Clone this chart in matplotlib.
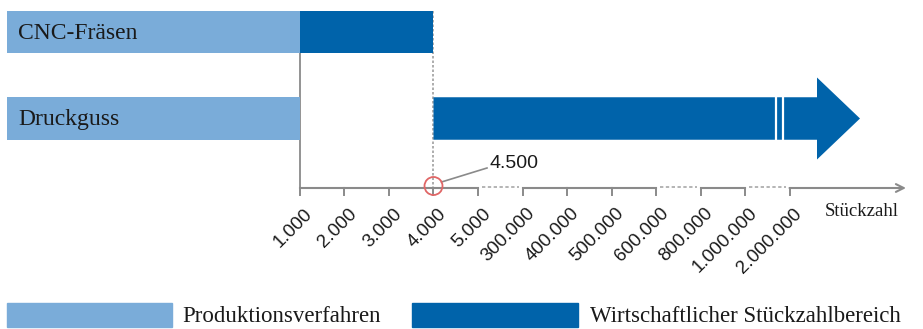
import matplotlib.pyplot as plt
from matplotlib.patches import Ellipse, Polygon, Rectangle

# data
quantities = ["1.000", "2.000", "3.000", "4.000", "5.000", "300.000", "400.000",
              "500.000", "600.000", "800.000", "1.000.000", "2.000.000"]
processes = ["CNC-Fräsen", "Druckguss"]
econ_from = ["1.000", "4.000"]
econ_to = ["4.000", None]          # None -> open-ended (arrow)
break_even_label = "4.500"
break_even_at = "4.000"
broken_segments = [("5.000", "300.000"), ("600.000", "800.000"), ("1.000.000", "2.000.000")]

LIGHT = "#7aacd9"
DARK = "#0063aa"
GREY = "#8a8a8a"

W, H = 923, 329
X0, STEP = 300, 44.5   # pixel position of first tick, tick spacing


def xi(px):
    return (px - X0) / STEP


def main():
    fig = plt.figure(figsize=(W / 100, H / 100), dpi=100)
    ax = fig.add_axes([0, 0, 1, 1])
    ax.set_xlim(xi(0), xi(W))
    ax.set_ylim(H, 0)
    ax.axis("off")

    pos = {q: i for i, q in enumerate(quantities)}
    row_y = [32, 118.5]
    row_h = 42.5
    label_left = xi(7)

    # process label bars
    ax.barh(row_y, [0 - label_left] * 2, left=label_left, height=row_h,
            color=LIGHT, zorder=2)
    for y, name in zip(row_y, processes):
        ax.text(xi(18), y + 1.5, name, ha="left", va="center", fontsize=17,
                family="Liberation Serif", color="#1a1a1a", zorder=3)

    # economic ranges
    for y, a, b in zip(row_y, econ_from, econ_to):
        if b is not None:
            ax.barh(y, pos[b] - pos[a], left=pos[a], height=row_h, color=DARK, zorder=2)
        else:
            x_start = pos[a]
            head_base, tip = xi(817), xi(860)
            half, head_half = row_h / 2, 41
            pts = [(x_start, y - half), (head_base, y - half), (head_base, y - head_half),
                   (tip, y), (head_base, y + head_half), (head_base, y + half),
                   (x_start, y + half)]
            ax.add_patch(Polygon(pts, closed=True, color=DARK, lw=0, zorder=2))
            # axis break marks in the arrow
            for bx in (776, 783):
                ax.plot([xi(bx)] * 2, [y - half - 1, y + half + 1], color="white",
                        lw=1.6, zorder=3)

    axis_y = 188
    # vertical guides
    ax.plot([0, 0], [row_y[0] + row_h / 2, axis_y], color=GREY, lw=1.3, zorder=1)
    ax.plot([pos[break_even_at]] * 2, [row_y[0] - row_h / 2, axis_y], color="#a0a0a0",
            lw=1.2, ls=(0, (1.5, 1.2)), zorder=1)

    # x axis
    broken = {(pos[a], pos[b]) for a, b in broken_segments}
    for i in range(len(quantities) - 1):
        if (i, i + 1) in broken:
            ax.plot([i + 0.08, i + 0.92], [axis_y - 1, axis_y - 1], color="#a8a8a8",
                    lw=1.2, ls=(0, (2, 1.5)), zorder=1)
        else:
            ax.plot([i, i + 1], [axis_y, axis_y], color=GREY, lw=1.5, zorder=1)
    ax.annotate("", xy=(xi(906), axis_y), xytext=(len(quantities) - 1, axis_y),
                arrowprops=dict(arrowstyle="->", color=GREY, lw=1.5,
                                shrinkA=0, shrinkB=0, mutation_scale=14))
    for i, q in enumerate(quantities):
        ax.plot([i, i], [axis_y, axis_y + 7], color=GREY, lw=1.4, zorder=1)
        ax.text(i + xi(X0 + 10), 211, q, rotation=45, rotation_mode="anchor",
                ha="right", va="center", fontsize=13.5, family="Liberation Sans",
                color="#1a1a1a")
    ax.text(xi(825), 211, "Stückzahl", ha="left", va="center", fontsize=13.5,
            family="Liberation Serif", color="#1a1a1a")

    # break-even marker
    bx = pos[break_even_at]
    ax.add_patch(Ellipse((bx, axis_y - 2), 18 / STEP, 18, fill=False,
                         ec="#e06666", lw=1.3, zorder=4))
    ax.plot([bx + xi(X0 + 8), xi(487)], [axis_y - 6, 168], color=GREY, lw=1.2)
    ax.text(xi(490), 163, break_even_label, ha="left", va="center", fontsize=14,
            family="Liberation Sans", color="#1a1a1a")

    # legend
    def fig_rect(x, y, w, h, c):
        fig.patches.append(Rectangle((x / W, 1 - (y + h) / H), w / W, h / H,
                                     transform=fig.transFigure, color=c))
    fig_rect(7, 303, 165, 24, LIGHT)
    fig_rect(412, 303, 166, 24, DARK)
    fig.text(182 / W, 1 - 316 / H, "Produktionsverfahren", ha="left", va="center",
             fontsize=16.5, family="Liberation Serif", color="#1a1a1a")
    fig.text(590 / W, 1 - 316 / H, "Wirtschaftlicher Stückzahlbereich", ha="left",
             va="center", fontsize=16.5, family="Liberation Serif", color="#1a1a1a")

    fig.savefig("out.png", dpi=100)
    plt.close(fig)


if __name__ == "__main__":
    main()
